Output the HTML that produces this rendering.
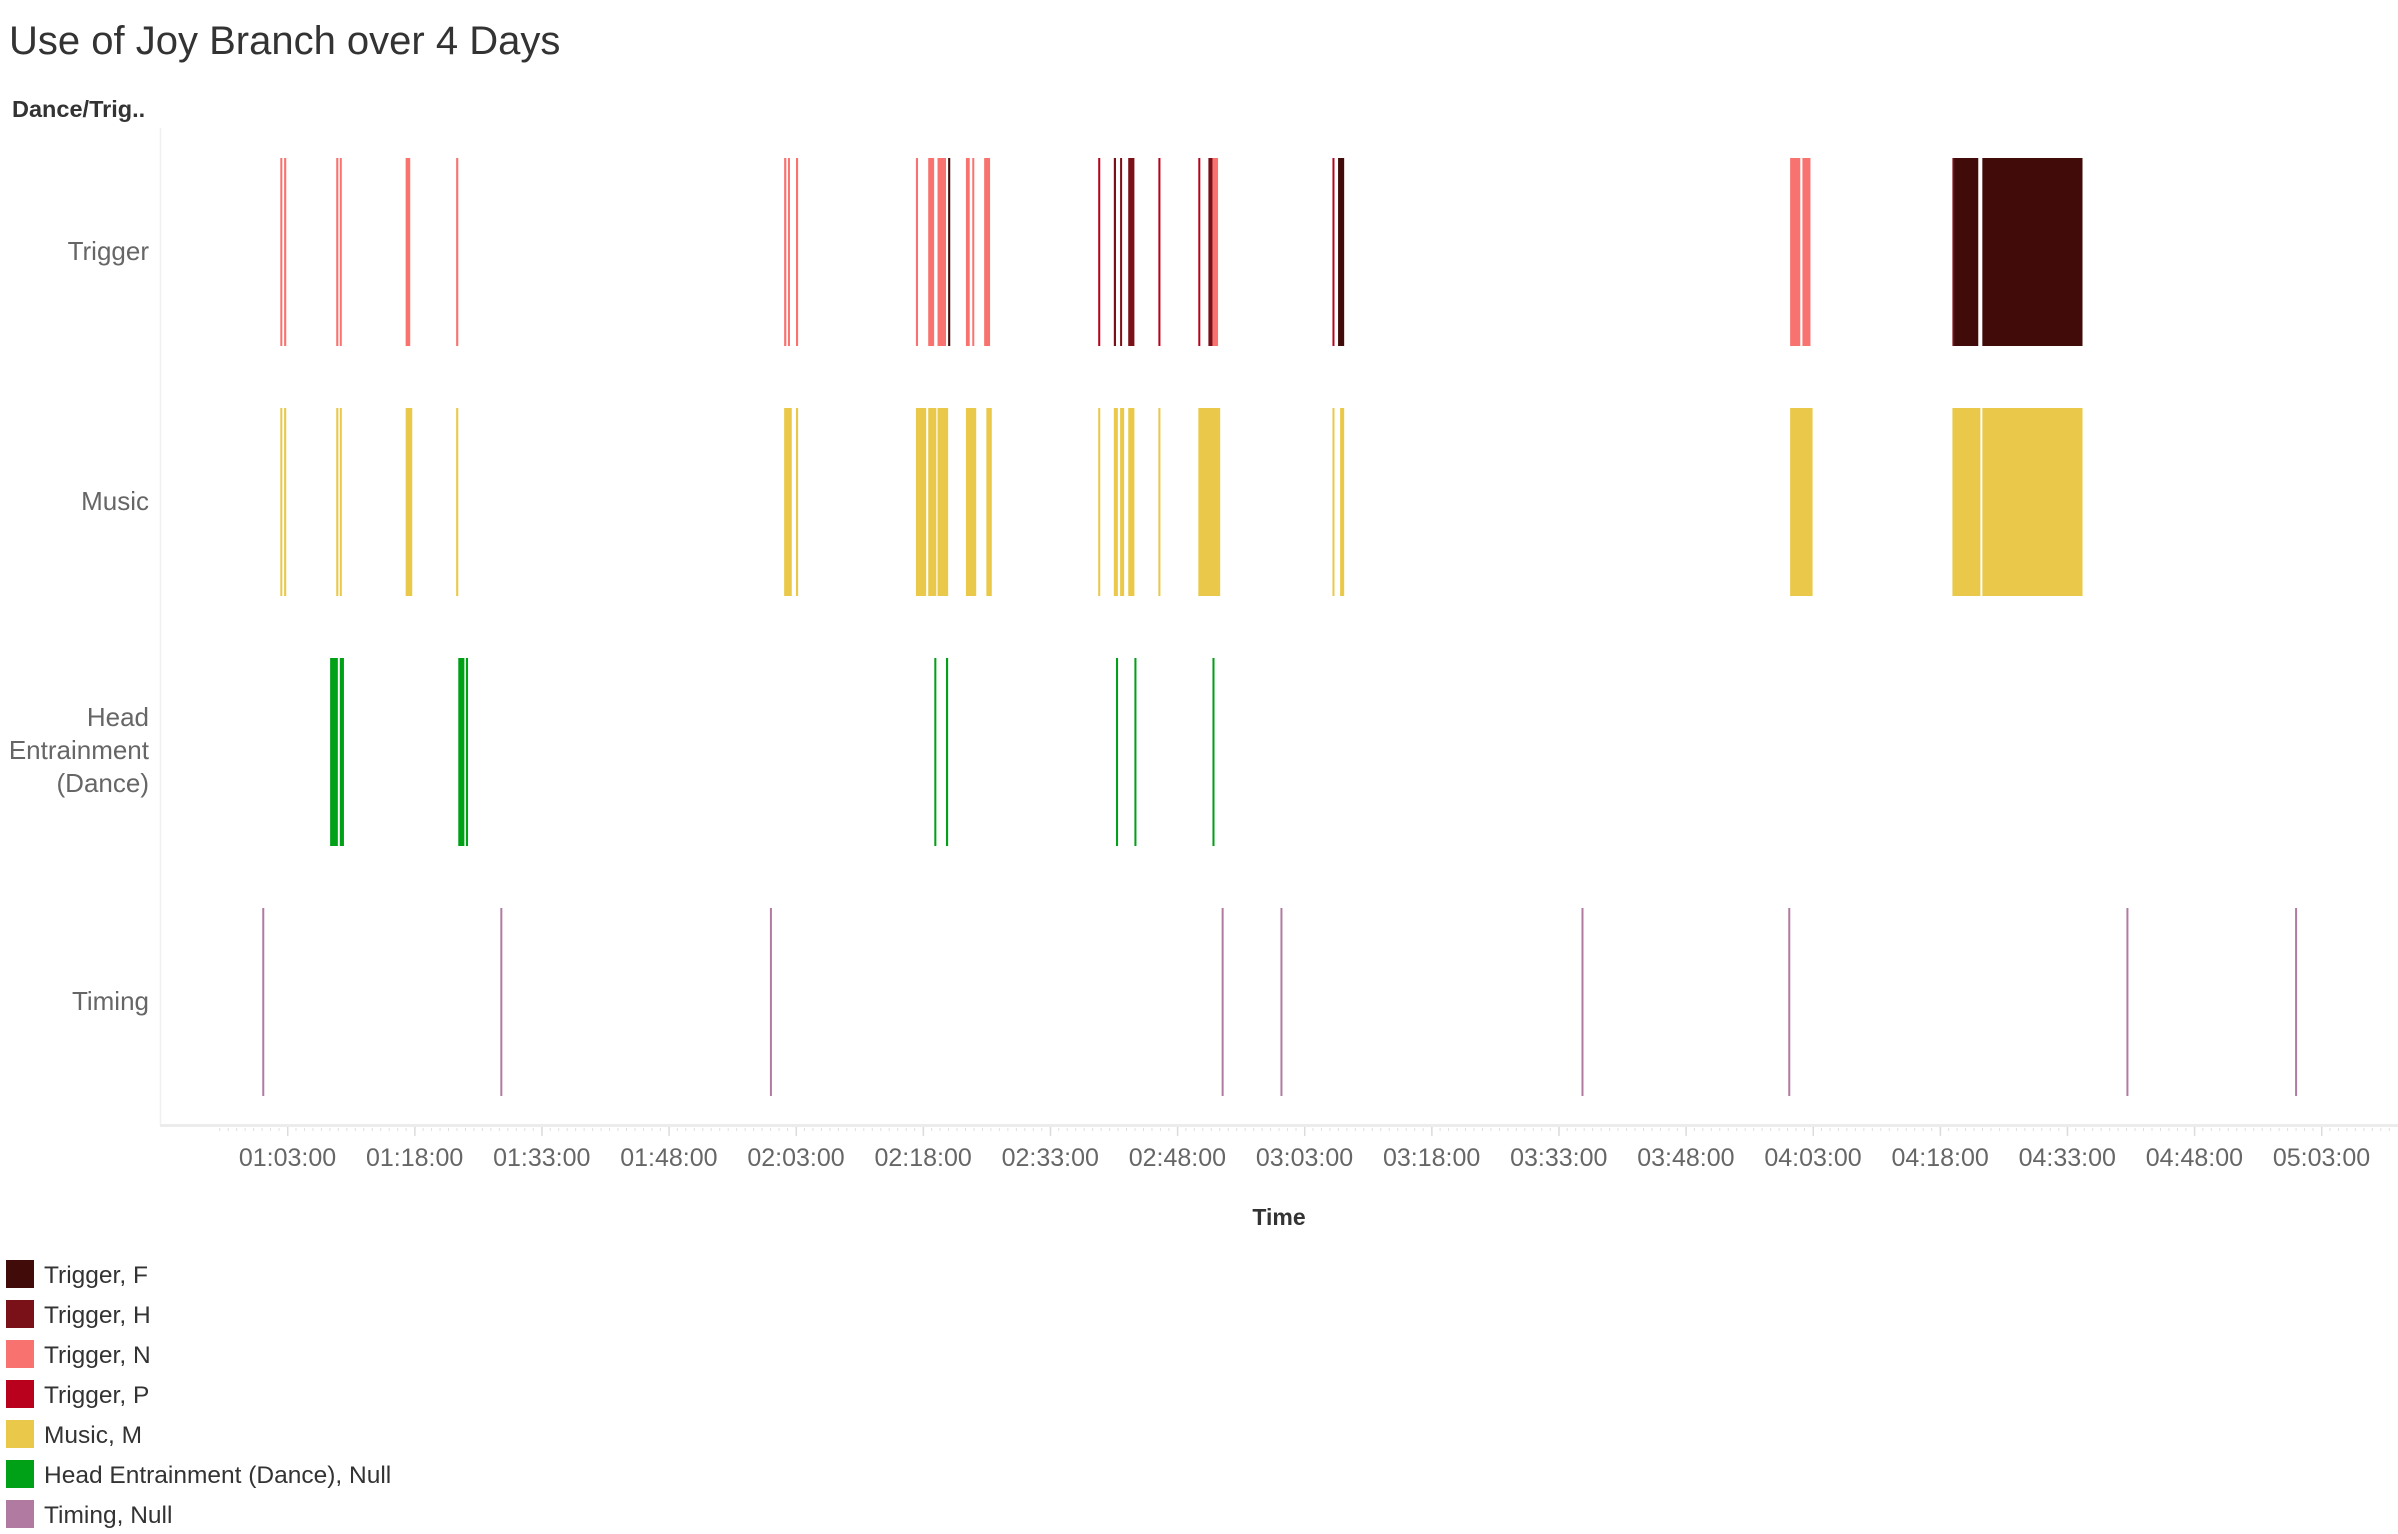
<!DOCTYPE html>
<html><head><meta charset="utf-8">
<style>
html,body{margin:0;padding:0;background:#fff;}
body{width:2398px;height:1534px;overflow:hidden;position:relative;font-family:"Liberation Sans","DejaVu Sans",sans-serif;}
svg{position:absolute;left:0;top:0;}
</style></head>
<body>
<svg id="chart" width="2398" height="1534" viewBox="0 0 2398 1534">
  <text x="9" y="54" font-size="40" fill="#333">Use of Joy Branch over 4 Days</text>
  <text x="12" y="117" font-size="23.5" font-weight="bold" fill="#333">Dance/Trig..</text>
  <line x1="160.5" y1="128" x2="160.5" y2="1126" stroke="#f0f0f0" stroke-width="1.5"/>
  <rect x="160" y="1124" width="2238" height="3" fill="#ececec"/>
  <g id="ticks"></g>
  <g id="marks"></g>
  <text x="149" y="260" font-size="26" fill="#666" text-anchor="end">Trigger</text>
  <text x="149" y="510" font-size="26" fill="#666" text-anchor="end">Music</text>
  <text x="149" y="726" font-size="26" fill="#666" text-anchor="end"><tspan x="149">Head</tspan><tspan x="149" dy="33">Entrainment</tspan><tspan x="149" dy="33">(Dance)</tspan></text>
  <text x="149" y="1010" font-size="26" fill="#666" text-anchor="end">Timing</text>
  <text x="1279" y="1225" font-size="23" font-weight="bold" fill="#333" text-anchor="middle">Time</text>
  <g id="legend"></g>
</svg>
<script>
// ---- data (minutes since 00:00) ----
const tickMinutes = [63,78,93,108,123,138,153,168,183,198,213,228,243,258,273,288,303];
const tickLabels = ["01:03:00","01:18:00","01:33:00","01:48:00","02:03:00","02:18:00","02:33:00","02:48:00","03:03:00","03:18:00","03:33:00","03:48:00","04:03:00","04:18:00","04:33:00","04:48:00","05:03:00"];
const triggerF = [[140.95,141.2],[186.96,187.68],[259.65,262.5],[262.98,274.8]];
const triggerH = [[160.5,160.76],[161.24,161.48],[162.2,162.93],[171.66,172.14],[259.45,259.65]];
const triggerN = [[62.15,62.39],[62.6,62.85],[68.75,69.0],[69.17,69.4],[76.94,77.48],[82.9,83.15],[121.6,121.86],[122.05,122.28],[123.0,123.25],[137.15,137.4],[138.6,139.3],[139.7,140.7],[143.05,143.5],[143.8,144.0],[145.2,145.9],[172.14,172.8],[240.3,241.5],[241.75,242.7]];
const triggerP = [[158.66,158.9],[165.76,166.0],[170.47,170.7],[186.3,186.53]];
const music = [[62.15,62.39],[62.6,62.85],[68.75,69.0],[69.17,69.4],[76.94,77.72],[82.9,83.15],[121.6,122.5],[123.0,123.25],[137.15,138.36],[138.6,139.56],[139.7,140.95],[143.05,144.26],[145.46,146.1],[158.66,158.9],[160.5,160.98],[161.24,161.72],[162.2,162.93],[165.76,166.0],[170.47,173.05],[186.3,186.53],[187.2,187.68],[240.3,242.95],[259.45,262.75],[262.98,274.8]];
const headEntrainment = [[68.03,68.94],[69.17,69.66],[83.15,83.87],[84.05,84.3],[139.32,139.56],[140.7,140.95],[160.76,161.0],[162.93,163.17],[172.14,172.38]];
const timing = [60.14,88.23,120.04,173.34,180.28,215.8,240.2,280.1,300.0];
const legendLabels = ["Trigger, F","Trigger, H","Trigger, N","Trigger, P","Music, M","Head Entrainment (Dance), Null","Timing, Null"];
const legendColors = ["#410b09","#7b1118","#f8736f","#b9001c","#eac94a","#00a017","#b07aa1"];

// ---- scales ----
const NS = "http://www.w3.org/2000/svg";
function xScale(m){ return 287.5 + (m - 63) * 8.475; }
const rowTop = {trigger:158, music:408, head:658, timing:908};
const rowH = 188;

const marks = document.getElementById('marks');
function drawSpans(arr, row, color, name){
  arr.forEach(function(s){
    const r = document.createElementNS(NS,'rect');
    const x0 = xScale(s[0]), x1 = xScale(s[1]);
    r.setAttribute('x', x0);
    r.setAttribute('y', rowTop[row]);
    r.setAttribute('width', Math.max(2, x1 - x0));
    r.setAttribute('height', rowH);
    r.setAttribute('fill', color);
    
    
    marks.appendChild(r);
  });
}
drawSpans(triggerN,'trigger','#f8736f','trigger-n-bar');
drawSpans(triggerP,'trigger','#b9001c','trigger-p-bar');
drawSpans(triggerH,'trigger','#7b1118','trigger-h-bar');
drawSpans(triggerF,'trigger','#410b09','trigger-f-bar');
drawSpans(music,'music','#eac94a','music-bar');
drawSpans(headEntrainment,'head','#00a017','head-entrainment-bar');
timing.forEach(function(m){
  const r = document.createElementNS(NS,'rect');
  r.setAttribute('x', xScale(m) - 1);
  r.setAttribute('y', rowTop.timing);
  r.setAttribute('width', 2);
  r.setAttribute('height', rowH);
  r.setAttribute('fill', '#b07aa1');
  
  
  marks.appendChild(r);
});

// ---- axis ticks ----
const ticks = document.getElementById('ticks');
for (let m = 55; m <= 313; m++){
  const x = xScale(m);
  if (x < 162 || x > 2396) continue;
  const l = document.createElementNS(NS,'rect');
  l.setAttribute('x', x - 0.5);
  l.setAttribute('y', 1128);
  l.setAttribute('width', 1);
  l.setAttribute('height', 3);
  l.setAttribute('fill', '#e0e0e0');
  
  
  ticks.appendChild(l);
}
tickMinutes.forEach(function(m, i){
  const x = xScale(m);
  const l = document.createElementNS(NS,'rect');
  l.setAttribute('x', x - 0.5);
  l.setAttribute('y', 1127);
  l.setAttribute('width', 1.5);
  l.setAttribute('height', 9);
  l.setAttribute('fill', '#dcdcdc');
  
  
  ticks.appendChild(l);
  const t = document.createElementNS(NS,'text');
  t.setAttribute('x', x);
  t.setAttribute('y', 1166);
  t.setAttribute('font-size', '25');
  t.setAttribute('fill', '#666');
  t.setAttribute('text-anchor', 'middle');
  
  
  t.textContent = tickLabels[i];
  ticks.appendChild(t);
});

// ---- legend ----
const legend = document.getElementById('legend');
legendLabels.forEach(function(lab, i){
  const y = 1260 + i * 40;
  const r = document.createElementNS(NS,'rect');
  r.setAttribute('x', 6);
  r.setAttribute('y', y);
  r.setAttribute('width', 28);
  r.setAttribute('height', 28);
  r.setAttribute('fill', legendColors[i]);
  
  
  legend.appendChild(r);
  const t = document.createElementNS(NS,'text');
  t.setAttribute('x', 44);
  t.setAttribute('y', y + 23);
  t.setAttribute('font-size', '24.5');
  t.setAttribute('fill', '#333');
  
  
  t.textContent = lab;
  legend.appendChild(t);
});
</script>
</body></html>
